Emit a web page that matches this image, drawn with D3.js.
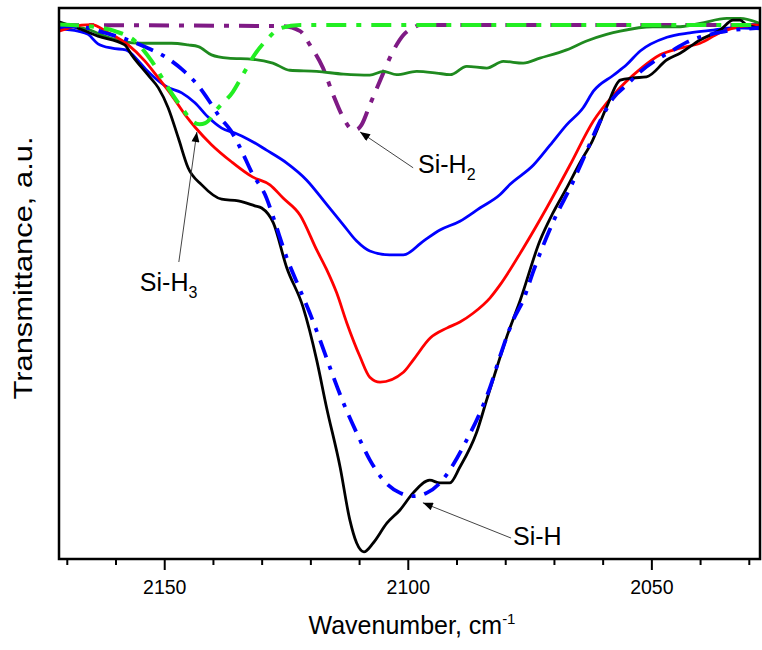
<!DOCTYPE html>
<html>
<head>
<meta charset="utf-8">
<title>Si-H bands</title>
<style>
body{margin:0;background:#fff;}
svg{display:block;font-family:Arial,"Liberation Sans",sans-serif;}
.curve{fill:none;stroke-linejoin:round;}
.tick line{stroke:#000;stroke-width:2;}
.tick text{font-size:19.5px;fill:#000;}
</style>
<script src="https://cdn.jsdelivr.net/npm/d3@7/dist/d3.min.js"></script>
</head>
<body>
<script>
// wavenumber (cm-1) / transmittance (a.u., 0-100)
var blackWn = [2171.6,2167.0,2163.6,2158.1,2156.7,2153.3,2151.2,2149.2,2147.1,2145.1,2142.3,2138.2,2134.8,2131.4,2130.0,2127.6,2124.9,2121.5,2118.7,2116.7,2113.9,2111.9,2110.5,2109.0,2107.1,2104.3,2101.6,2098.9,2095.5,2093.4,2091.4,2089.3,2085.9,2083.8,2081.7,2079.7,2076.9,2072.9,2070.2,2067.4,2064.6,2062.1,2059.2,2056.4,2053.8,2051.0,2046.8,2044.1,2040.0,2035.9,2033.2,2031.8,2030.4,2027.7];
var blackT  = [97.5,96.1,94.9,93.3,91.5,87.8,85.5,81.9,76.4,71.0,67.9,65.3,65.0,64.1,63.7,61.0,53.0,45.7,36.1,27.6,16.7,7.1,2.9,1.3,2.9,6.5,8.9,12.0,14.3,13.8,13.8,16.7,22.9,28.9,34.8,40.3,47.0,57.7,62.8,67.3,72.0,75.9,82.0,86.9,87.3,87.5,90.6,91.8,94.2,96.0,97.8,97.8,96.9,96.4];

var redWn = [2171.6,2167.0,2164.9,2161.5,2157.4,2154.0,2151.2,2148.5,2145.7,2143.7,2140.3,2136.2,2131.8,2128.3,2125.6,2122.1,2118.7,2116.7,2114.6,2112.5,2109.8,2107.8,2105.7,2100.9,2098.9,2095.4,2092.0,2089.3,2086.6,2083.1,2081.1,2076.3,2071.5,2066.7,2061.9,2057.8,2052.3,2048.2,2044.1,2040.0,2035.9,2031.8,2027.7];
var redT  = [95.8,96.9,97.0,95.5,93.3,90.4,87.3,84.2,80.6,78.4,75.2,72.1,69.3,67.9,65.5,62.4,56.1,52.6,48.3,42.8,36.7,33.0,32.1,33.9,36.1,40.1,41.9,43.0,44.6,47.4,49.7,56.4,63.7,71.5,79.5,84.2,88.9,91.5,92.7,93.6,95.5,96.6,96.9];

var blueWn = [2171.6,2167.7,2165.6,2163.6,2160.7,2157.9,2155.3,2153.6,2151.9,2149.5,2146.4,2143.7,2141.0,2138.2,2135.5,2132.8,2129.0,2124.9,2120.8,2116.7,2113.2,2110.5,2107.8,2103.7,2100.9,2096.8,2093.4,2089.3,2085.2,2081.1,2079.0,2074.2,2070.8,2067.4,2064.0,2061.9,2057.8,2055.1,2052.3,2046.8,2042.1,2037.3,2033.2,2027.7];
var blueT  = [96.2,95.8,95.2,93.5,92.7,92.4,90.4,88.7,87.3,85.7,84.6,82.8,80.2,78.2,77.3,76.2,74.2,71.9,68.8,64.4,60.6,57.7,55.9,55.2,55.2,57.7,59.7,61.3,63.7,66.1,68.0,71.5,75.1,78.8,81.9,84.9,87.8,89.7,92.2,94.7,95.5,96.0,96.4,96.2];

var greenWn = [2171.6,2165.6,2162.2,2158.7,2154.6,2148.5,2145.1,2143.0,2140.3,2136.9,2131.8,2127.7,2124.2,2118.7,2113.2,2107.8,2105.0,2102.3,2098.2,2094.1,2091.3,2087.9,2083.8,2080.4,2076.3,2072.9,2067.4,2063.3,2059.2,2056.4,2049.7,2044.1,2040.0,2034.5,2031.8,2027.7];
var greenT  = [97.0,96.1,94.9,94.0,93.6,93.6,93.3,93.0,91.5,90.9,90.7,90.0,88.7,88.5,88.0,87.8,88.5,87.9,88.5,88.2,87.9,89.4,89.1,90.3,90.0,90.9,92.4,94.0,95.2,95.8,96.6,96.6,97.2,98.1,98.1,97.2];

// fitted components
var siHWn = [2171.6,2165.6,2162.2,2158.7,2153.3,2149.9,2146.4,2143.3,2140.6,2138.6,2136.3,2134.5,2132.0,2129.0,2127.6,2124.9,2122.1,2120.1,2118.0,2116.0,2113.2,2110.5,2107.8,2105.0,2101.6,2098.9,2096.1,2093.4,2090.7,2087.9,2085.2,2083.1,2081.1,2078.3,2076.3,2074.2,2070.1,2066.0,2063.3,2060.5,2057.8,2055.1,2052.3,2045.5,2042.7,2035.9,2027.7];
var siHT  = [96.7,96.4,95.5,94.6,92.7,91.2,88.9,86.2,82.9,80.2,77.7,74.8,70.1,65.5,62.0,54.8,48.8,44.6,39.7,34.8,28.3,22.9,18.0,14.3,12.0,11.4,12.0,13.8,17.1,21.6,26.5,31.2,36.7,43.5,47.0,52.3,61.3,68.6,74.0,79.5,83.7,86.0,88.4,92.4,93.8,95.6,96.4];

var siH2Wn = [2171.6,2125.6,2122.1,2120.1,2117.4,2115.3,2113.2,2111.5,2110.6,2109.5,2107.8,2105.7,2103.0,2100.9,2098.9,2097.5,2027.7];
var siH2T  = [96.9,96.7,95.8,93.3,89.1,84.2,80.0,78.0,77.9,78.8,82.4,86.8,92.2,95.1,96.4,96.9,96.9];

var siH3Wn = [2171.6,2165.7,2160.1,2156.0,2152.6,2149.2,2146.4,2144.0,2142.7,2141.6,2138.9,2135.9,2134.1,2131.4,2129.0,2126.2,2122.1,2100.0,2050.0,2027.7];
var siH3T  = [97.0,96.7,95.8,94.0,90.4,85.5,81.9,79.3,78.9,79.1,81.9,84.8,87.5,91.6,94.2,96.3,96.9,96.9,96.9,96.9];

var majorTicks = [2150, 2100, 2050];
var minorTicks = [2170,2160,2140,2130,2120,2110,2090,2080,2070,2060,2040,2030];

var width = 762, height = 650;
var mLeft = 59, mTop = 8, mRight = 760, mBottom = 559;

var svg = d3.select("body").append("svg")
	.attr("width", width)
	.attr("height", height);

var x = d3.scaleLinear().domain([2171.6, 2027.7]).range([mLeft, mRight]);
var y = d3.scaleLinear().domain([0, 100]).range([mBottom, mTop]);

var defs = svg.append("defs");
defs.append("clipPath").attr("id", "plot")
	.append("rect")
	.attr("x", mLeft).attr("y", mTop)
	.attr("width", mRight - mLeft).attr("height", mBottom - mTop);

defs.append("marker")
	.attr("id", "head")
	.attr("viewBox", "0 0 10 8")
	.attr("refX", 10).attr("refY", 4)
	.attr("markerWidth", 11).attr("markerHeight", 8)
	.attr("markerUnits", "userSpaceOnUse")
	.attr("orient", "auto")
	.append("path")
	.attr("d", "M0,0L10,4L0,8z")
	.attr("fill", "#000");

function pairs(wn, t){
	return wn.map(function(w, i){ return [w, t[i]]; });
}

var series = [
	{pts: pairs(siH2Wn, siH2T),   color: "#7f1a85", w: 4,   dash: "20,10,5,10"},
	{pts: pairs(greenWn, greenT), color: "#1f8a1f", w: 2.8, dash: null},
	{pts: pairs(blueWn, blueT),   color: "#0000ff", w: 2.8, dash: null},
	{pts: pairs(redWn, redT),     color: "#ff0000", w: 2.8, dash: null},
	{pts: pairs(blackWn, blackT), color: "#000000", w: 2.8, dash: null},
	{pts: pairs(siHWn, siHT),     color: "#0000ff", w: 3.8, dash: "18,9,4,9"},
	{pts: pairs(siH3Wn, siH3T),   color: "#22ee22", w: 4,   dash: "20,10,5,10"}
];

var line = d3.line()
	.x(function(d){ return x(d[0]); })
	.y(function(d){ return y(d[1]); })
	.curve(d3.curveMonotoneX);

svg.append("g")
	.attr("clip-path", "url(#plot)")
	.selectAll("path")
	.data(series)
	.enter()
	.append("path")
	.attr("class", "curve")
	.attr("d", function(d){ return line(d.pts); })
	.attr("stroke", function(d){ return d.color; })
	.attr("stroke-width", function(d){ return d.w; })
	.attr("stroke-dasharray", function(d){ return d.dash; });

// axes: only the bottom one has ticks
var minorAxis = svg.append("g")
	.attr("transform", "translate(0," + mBottom + ")")
	.call(d3.axisBottom(x).tickValues(minorTicks).tickSize(6).tickFormat(""));
minorAxis.select(".domain").remove();

var majorAxis = svg.append("g")
	.attr("transform", "translate(0," + mBottom + ")")
	.call(d3.axisBottom(x).tickValues(majorTicks).tickSize(11).tickPadding(10).tickFormat(d3.format("d")));
majorAxis.select(".domain").remove();

svg.append("rect")
	.attr("x", mLeft).attr("y", mTop)
	.attr("width", mRight - mLeft).attr("height", mBottom - mTop)
	.attr("fill", "none")
	.attr("stroke", "#000")
	.attr("stroke-width", 2.5);

// axis titles
var xt = svg.append("text")
	.attr("x", 412).attr("y", 634)
	.attr("text-anchor", "middle")
	.style("font-size", "25px");
xt.append("tspan").text("Wavenumber, cm");
xt.append("tspan").attr("dy", -10).style("font-size", "15px").text("-1");

svg.append("text")
	.attr("transform", "translate(32,268) rotate(-90)")
	.attr("text-anchor", "middle")
	.attr("textLength", 263)
	.attr("lengthAdjust", "spacingAndGlyphs")
	.style("font-size", "26px")
	.text("Transmittance, a.u.");

// band labels with arrows
var notes = [
	{label: "Si-H", sub: "2", tip: [2109.8, 77.5], from: [2098.9, 71.0], at: [2097.9, 70.1]},
	{label: "Si-H", sub: "3", tip: [2143.3, 77.5], from: [2147.0, 53.9], at: [2155.0, 48.6]},
	{label: "Si-H", sub: "",  tip: [2096.9, 10.2], from: [2078.8, 3.8],  at: [2078.4, 2.5]}
];

svg.selectAll(".note-line")
	.data(notes)
	.enter()
	.append("line")
	.attr("class", "note-line")
	.attr("x1", function(d){ return x(d.from[0]); })
	.attr("y1", function(d){ return y(d.from[1]); })
	.attr("x2", function(d){ return x(d.tip[0]); })
	.attr("y2", function(d){ return y(d.tip[1]); })
	.attr("stroke", "#444")
	.attr("stroke-width", 1)
	.attr("marker-end", "url(#head)");

var nt = svg.selectAll(".note")
	.data(notes)
	.enter()
	.append("text")
	.attr("class", "note")
	.attr("x", function(d){ return x(d.at[0]); })
	.attr("y", function(d){ return y(d.at[1]); })
	.style("font-size", "25px");
nt.append("tspan").text(function(d){ return d.label; });
nt.append("tspan")
	.attr("dy", 7)
	.style("font-size", "16px")
	.text(function(d){ return d.sub; });
</script>
</body>
</html>
